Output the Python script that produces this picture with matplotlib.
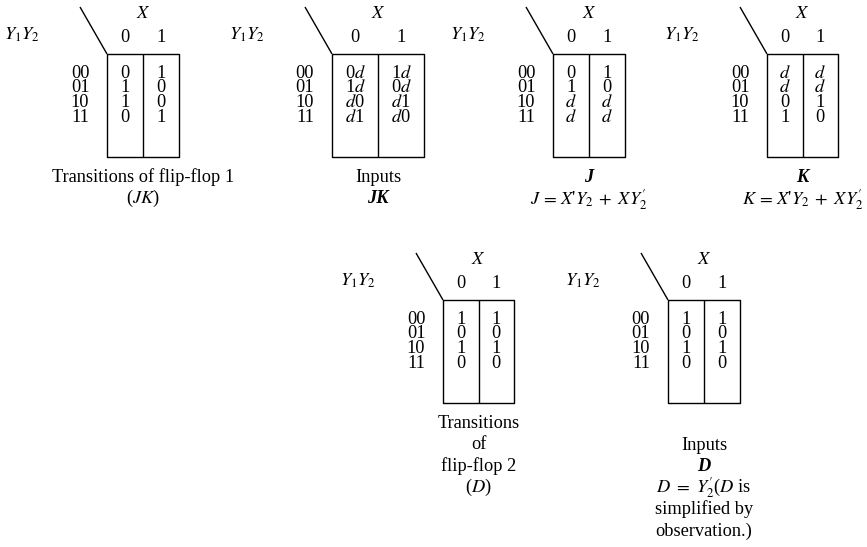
# Karnaugh maps for flip-flop transitions and inputs (JK and D)

import matplotlib
matplotlib.use("Agg")
import matplotlib.pyplot as plt

plt.rcParams['font.family'] = ['Liberation Serif', 'DejaVu Serif']
plt.rcParams['mathtext.fontset'] = 'stix'

# Map data: rows are Y1Y2 = 00, 01, 10, 11; columns are X = 0, 1
row_labels = ["00", "01", "10", "11"]
col_labels = ["0", "1"]

ff1_transitions = [["0", "1"], ["1", "0"], ["1", "0"], ["0", "1"]]
jk_inputs = [["0$d$", "1$d$"], ["1$d$", "0$d$"], ["$d$0", "$d$1"], ["$d$1", "$d$0"]]
j_map = [["0", "1"], ["1", "0"], ["$d$", "$d$"], ["$d$", "$d$"]]
k_map = [["$d$", "$d$"], ["$d$", "$d$"], ["0", "1"], ["1", "0"]]
ff2_transitions = [["1", "1"], ["0", "0"], ["1", "1"], ["0", "0"]]
d_inputs = [["1", "1"], ["0", "0"], ["1", "1"], ["0", "0"]]

captions = [
    [("Transitions of flip-flop 1", "n"), ("($JK$)", "n")],
    [("Inputs", "n"), ("JK", "bi")],
    [("J", "bi"), ("$J\\,=\\,X$'$Y_2\\;+\\;XY_2'$", "n")],
    [("K", "bi"), ("$K\\,=\\,X$'$Y_2\\;+\\;XY_2'$", "n")],
    [("Transitions", "n"), ("of", "n"), ("flip-flop 2", "n"), ("($D$)", "n")],
    [("Inputs", "n"), ("D", "bi"), ("$D\\ =\\ Y_2'$($D$ is", "n"),
     ("simplified by", "n"), ("observation.)", "n")],
]

maps = [ff1_transitions, jk_inputs, j_map, k_map, ff2_transitions, d_inputs]

# layout in pixels: box left, box right, box top, caption start y
layout = [
    (107, 179, 54, 177),
    (332, 424, 54, 177),
    (553, 625, 54, 178),
    (767, 838, 54, 178),
    (443, 514, 300, 423),
    (668, 740, 300, 445),
]

FS = 13.2


def draw_map(ax, cells, x0, x1, top, cap_y, cap):
    bottom = top + 103
    xm = (x0 + x1) / 2
    kw = dict(color="black", lw=1.0, solid_capstyle="butt")
    # box and divider
    ax.plot([x0, x1, x1, x0, x0], [top, top, bottom, bottom, top], **kw)
    ax.plot([xm, xm], [top, bottom], **kw)
    # diagonal
    ax.plot([x0 - 27, x0], [top - 47, top], **kw)
    # headers
    ax.text(xm, top - 41, "$X$", ha="center", va="center", fontsize=FS)
    col_x = [(x0 + xm) / 2, (xm + x1) / 2]
    for cx, lab in zip(col_x, col_labels):
        ax.text(cx, top - 17, lab, ha="center", va="center", fontsize=FS)
    ax.text(x0 - 103, top - 19, "$Y_1Y_2$", ha="left", va="center", fontsize=FS)
    # rows
    for i, lab in enumerate(row_labels):
        ry = top + 19 + 14.7 * i
        ax.text(x0 - 27, ry, lab, ha="center", va="center", fontsize=FS)
        for cx, val in zip(col_x, cells[i]):
            ax.text(cx, ry, val, ha="center", va="center", fontsize=FS)
    # caption
    for k, (line, style) in enumerate(cap):
        if style == "bi":
            ax.text(xm, cap_y + 21.5 * k, line, ha="center", va="center",
                    fontsize=FS, fontstyle="italic", fontweight="bold")
        else:
            ax.text(xm, cap_y + 21.5 * k, line, ha="center", va="center",
                    fontsize=FS)


def main():
    fig = plt.figure(figsize=(8.67, 5.47), dpi=100)
    ax = fig.add_axes([0, 0, 1, 1])
    ax.set_xlim(0, 867)
    ax.set_ylim(547, 0)
    ax.axis("off")

    for cells, (x0, x1, top, cap_y), cap in zip(maps, layout, captions):
        draw_map(ax, cells, x0, x1, top, cap_y, cap)

    fig.savefig("out.png", dpi=100, facecolor="white")


if __name__ == "__main__":
    main()
